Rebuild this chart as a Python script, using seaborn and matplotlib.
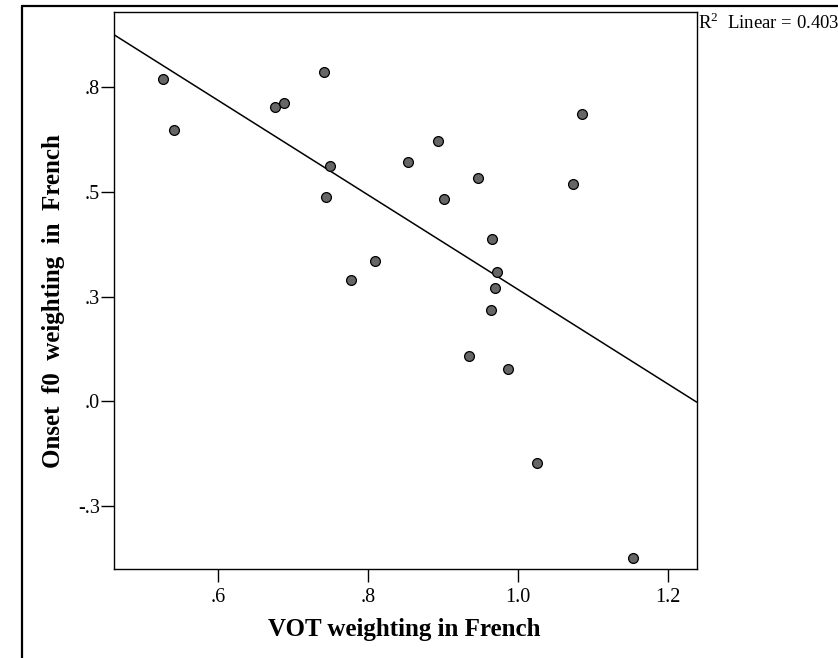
import matplotlib
matplotlib.use("Agg")
import matplotlib.pyplot as plt
from matplotlib.lines import Line2D
import numpy as np
import pandas as pd
import seaborn as sns

# ---- data ----
vot_weighting = [0.527, 0.541, 0.676, 0.688, 0.741, 0.750, 0.744, 0.893,
                 0.854, 0.947, 0.901, 1.074, 0.965, 0.810, 0.778, 0.972,
                 0.970, 0.964, 0.935, 0.987, 1.025, 1.086, 1.154]
f0_weighting = [0.770, 0.649, 0.704, 0.712, 0.787, 0.563, 0.487, 0.622,
                0.572, 0.533, 0.484, 0.519, 0.389, 0.335, 0.290, 0.308,
                0.270, 0.219, 0.109, 0.077, -0.147, 0.686, -0.374]
x_ticks = [0.6, 0.8, 1.0, 1.2]
x_tick_labels = [".6", ".8", "1.0", "1.2"]
y_ticks = [0.75, 0.5, 0.25, 0.0, -0.25]
y_tick_labels = [".8", ".5", ".3", ".0", "-.3"]
x_label = "VOT weighting in French"
y_label = "Onset  f0  weighting  in  French"
r2_text = "R$^2$  Linear = 0.403"

df = pd.DataFrame({"vot": vot_weighting, "f0": f0_weighting})

sns.set_style("white")
plt.rcParams["font.family"] = ["Liberation Serif", "DejaVu Serif"]
plt.rcParams["mathtext.fontset"] = "custom"
plt.rcParams["mathtext.rm"] = "Liberation Serif"

W, H = 838, 658
fig = plt.figure(figsize=(W / 100, H / 100), dpi=100)
ax_left, ax_right, ax_top, ax_bottom = 113.7, 696.7, 11.5, 569.0
ax = fig.add_axes([ax_left / W, 1 - ax_bottom / H,
                   (ax_right - ax_left) / W, (ax_bottom - ax_top) / H])

ax.set_xlim(0.461, 1.2387)
ax.set_ylim(-0.400, 0.931)

sns.regplot(data=df, x="vot", y="f0", ax=ax, ci=None, truncate=False,
            scatter_kws=dict(s=50, color="#666666", edgecolor="black",
                             linewidths=0.9, alpha=1, zorder=3),
            line_kws=dict(color="black", lw=1.1, zorder=2))

ax.set_xlim(0.461, 1.2387)
ax.set_ylim(-0.400, 0.931)

ax.set_xticks(x_ticks)
ax.set_xticklabels(x_tick_labels)
ax.set_yticks(y_ticks)
ax.set_yticklabels(y_tick_labels)
ax.tick_params(axis="both", direction="out", length=9.5, width=1.0,
               color="black", labelsize=14.5, labelcolor="black")
ax.tick_params(axis="x", pad=4)
ax.tick_params(axis="y", pad=0.5)
ax.tick_params(bottom=True, left=True)

for sp in ax.spines.values():
    sp.set_visible(True)
    sp.set_color("black")
    sp.set_linewidth(1.0)

ax.set_xlabel(x_label, fontsize=18, fontweight="bold", color="black")
ax.set_ylabel(y_label, fontsize=18, fontweight="bold", color="black")
ax.xaxis.set_label_coords(0.499, -0.109)
ax.xaxis.label.set_va("center")
ax.yaxis.set_label_coords(-0.104, 0.481)
ax.yaxis.label.set_va("center")

fig.text(698 / W, 1 - 12 / H, r2_text, ha="left", va="top", fontsize=13.5,
         color="black")

# outer frame (partly cut off at right and bottom)
fx = 21.5 / W
fy = 1 - 5.5 / H
fig.add_artist(Line2D([fx, fx], [-0.1, fy], transform=fig.transFigure,
                      color="black", lw=1.6))
fig.add_artist(Line2D([fx, 1.1], [fy, fy], transform=fig.transFigure,
                      color="black", lw=1.6))

fig.savefig("out.png", dpi=100)
